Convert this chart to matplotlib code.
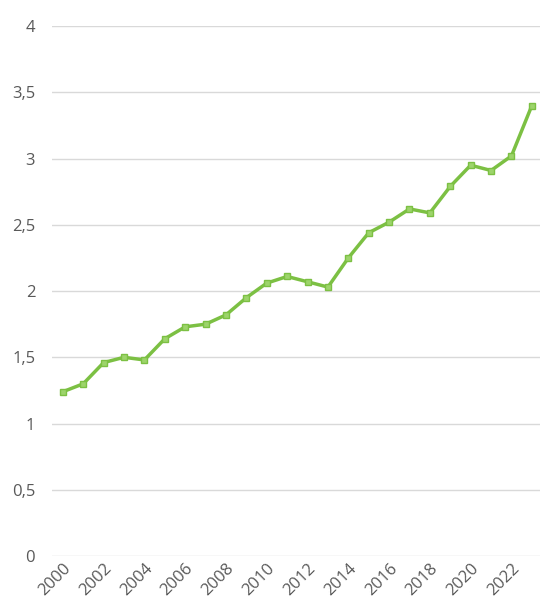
import matplotlib.pyplot as plt

years = list(range(2000, 2024))
values = [1.24, 1.30, 1.46, 1.50, 1.48, 1.64, 1.73, 1.75, 1.82, 1.95,
          2.06, 2.11, 2.07, 2.03, 2.25, 2.44, 2.52, 2.62, 2.59, 2.79,
          2.95, 2.91, 3.02, 3.40]
y_ticks = [0, 0.5, 1, 1.5, 2, 2.5, 3, 3.5, 4]
y_labels = ['0', '0,5', '1', '1,5', '2', '2,5', '3', '3,5', '4']
x_ticks = list(range(2000, 2023, 2))

plt.rcParams['font.family'] = ['Open Sans', 'DejaVu Sans']

fig = plt.figure(figsize=(5.4, 6.07), dpi=100)
ax = fig.add_axes([0.096, 0.084, 0.904, 0.873])

# Line with square markers
ax.plot(years, values, color='#7cc043', linewidth=2.5,
        marker='s', markersize=5, markerfacecolor='#9dd46b',
        markeredgecolor='#7cc043', markeredgewidth=1, zorder=3)

ax.set_ylim(0, 4)
ax.set_xlim(1999.46, 2023.4)
ax.set_yticks(y_ticks)
ax.set_yticklabels(y_labels)
ax.set_xticks(x_ticks)
ax.set_xticklabels([str(y) for y in x_ticks], rotation=45, ha='right',
                   rotation_mode='anchor')

ax.grid(axis='y', color='#d9d9d9', linewidth=1)
ax.set_axisbelow(True)
for s in ax.spines.values():
    s.set_visible(False)
ax.tick_params(axis='both', length=0, colors='#595959', labelsize=12)
ax.tick_params(axis='y', pad=12)
ax.tick_params(axis='x', pad=3)

fig.savefig('out.png', dpi=100)
